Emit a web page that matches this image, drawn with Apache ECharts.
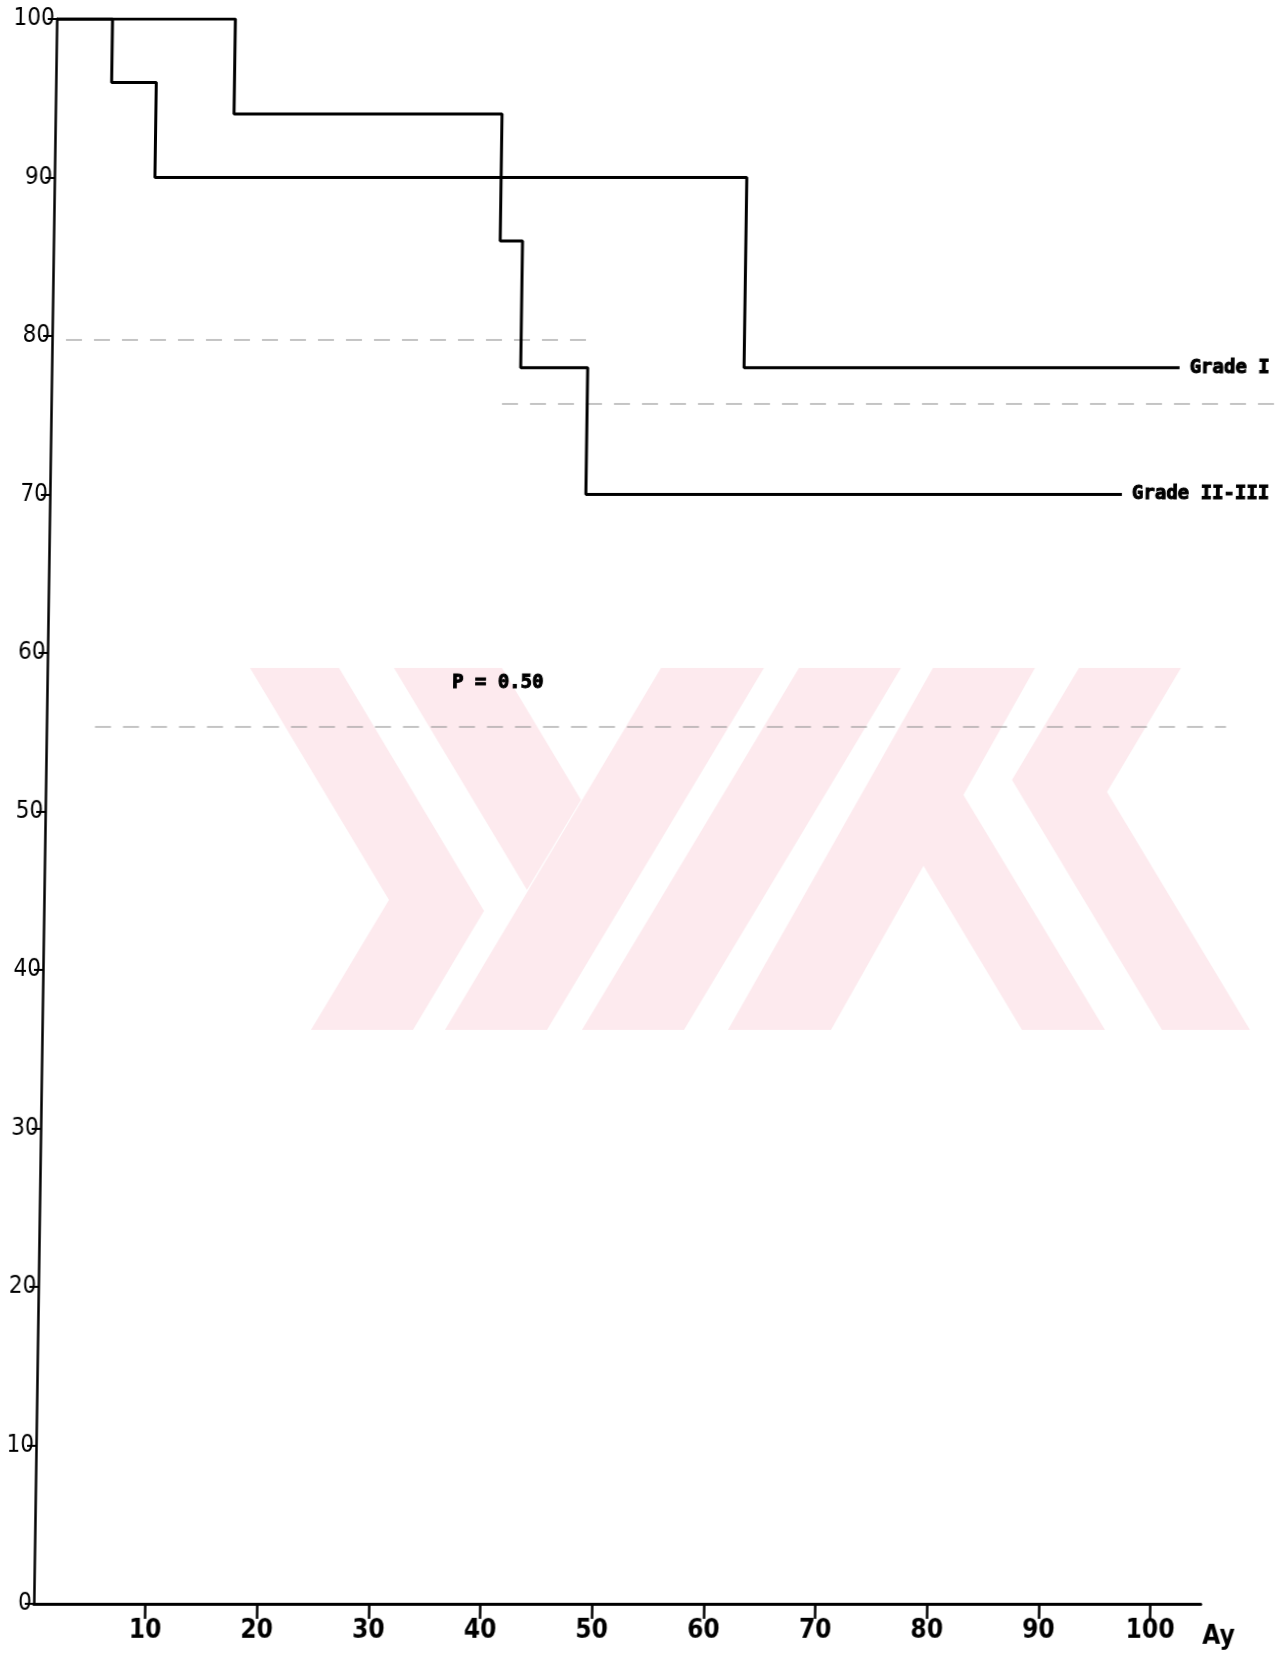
<!DOCTYPE html>
<html>
<head>
<meta charset="utf-8">
<title>Grade survival</title>
<script src="https://cdn.jsdelivr.net/npm/echarts@6/dist/echarts.min.js"></script>
<style>
  html, body { margin: 0; padding: 0; background: #fff; overflow: hidden; }
  /* the scanned page leans a little: the y axis drifts left going down */
  #chart { width: 1300px; height: 1657px; transform-origin: 0 0; transform: skewX(-0.83deg); }
</style>
</head>
<body>
<div id="chart"></div>
<script>
// tick values
const xTicks = [10, 20, 30, 40, 50, 60, 70, 80, 90, 100];
const yTickStep = 10;

// Kaplan-Meier steps, months / survival %
const grade1Months = [0, 5, 9, 62, 101];
const grade1Surv = [100, 96, 90, 78, 78];
const grade23Months = [0, 16, 40, 42, 48, 96];
const grade23Surv = [100, 94, 86, 78, 70, 70];

const seriesNames = ['Grade I', 'Grade II-III'];
const pLabel = 'P = 0.50';
const xName = 'Ay';

const SKEW = Math.tan(0.83 * Math.PI / 180);
const narrow = '"DejaVu Sans Condensed", "Liberation Sans Narrow", sans-serif';
const mono = '"DejaVu Sans Mono", "Liberation Mono", monospace';

// pale watermark behind the plot (page coordinates, un-skewed below)
const markPink = '#fdeaee';
const markShapes = [
  [[250, 668], [339, 668], [484, 911], [413, 1030], [311, 1030], [389, 900]],
  [[394, 668], [502, 668], [581, 800], [527, 890]],
  [[661, 668], [764, 668], [547, 1030], [445, 1030]],
  [[799, 668], [901, 668], [684, 1030], [582, 1030]],
  [[933, 668], [1035, 668], [831, 1030], [728, 1030]],
  [[920, 860], [961, 791], [1105, 1030], [1022, 1030]],
  [[1079, 668], [1181, 668], [1107, 792], [1250, 1030], [1162, 1030], [1012, 780]]
];

// faint show-through streaks of the scan: [x1, x2, y]
const streaks = [
  [66, 597, 340],
  [502, 1280, 404],
  [95, 1226, 727]
];

const pairs = (xs, ys) => xs.map((x, i) => [x, ys[i]]);
const unskew = ([x, y]) => [x + SKEW * y, y];

const chart = echarts.init(document.getElementById('chart'));

const stepSeries = (name, data) => ({
  name,
  type: 'line',
  step: 'end',
  symbol: 'none',
  data,
  z: 3,
  lineStyle: { color: '#000', width: 3 },
  endLabel: {
    show: true,
    formatter: '{a}',
    distance: 10,
    color: '#000',
    fontFamily: mono,
    fontWeight: 'bold',
    fontSize: 19,
    textBorderColor: '#000',
    textBorderWidth: 1
  }
});

chart.setOption({
  animation: false,
  backgroundColor: '#fff',
  grid: { left: 57, right: 76, top: 19, bottom: 53, containLabel: false },
  xAxis: {
    type: 'value',
    min: 0,
    max: 104.5,
    splitLine: { show: false },
    axisLine: { lineStyle: { color: '#000', width: 3 } },
    axisTick: { customValues: xTicks, length: 15, lineStyle: { color: '#000', width: 2.5 } },
    axisLabel: {
      customValues: xTicks,
      margin: 14,
      color: '#000',
      fontFamily: narrow,
      fontWeight: 'bold',
      fontSize: 26
    },
    name: xName,
    nameLocation: 'end',
    nameGap: 2,
    nameTextStyle: {
      color: '#000',
      fontFamily: narrow,
      fontWeight: 'bold',
      fontSize: 26,
      align: 'left',
      verticalAlign: 'top',
      padding: [20, 0, 0, 0]
    }
  },
  yAxis: {
    type: 'value',
    min: 0,
    max: 100,
    interval: yTickStep,
    splitLine: { show: false },
    axisLine: { show: true, lineStyle: { color: '#000', width: 2.5 } },
    axisTick: { show: true, length: 9, lineStyle: { color: '#000', width: 2 } },
    axisLabel: { margin: 2, color: '#000', fontFamily: narrow, fontSize: 24 }
  },
  graphic: [
    ...markShapes.map((pts) => ({
      type: 'polygon',
      silent: true,
      z: -10,
      shape: { points: pts.map(unskew) },
      style: { fill: markPink }
    })),
    ...streaks.map(([x1, x2, y]) => ({
      type: 'line',
      silent: true,
      z: -5,
      shape: { x1: x1 + SKEW * y, y1: y, x2: x2 + SKEW * y, y2: y },
      style: { stroke: '#8a8a8a', lineWidth: 1.2, lineDash: [16, 12] }
    })),
    {
      type: 'text',
      x: 452 + SKEW * 683,
      y: 683,
      z: 10,
      style: {
        text: pLabel,
        fill: '#000',
        font: 'bold 19px ' + mono,
        stroke: '#000',
        lineWidth: 1,
        verticalAlign: 'middle'
      }
    }
  ],
  series: [
    stepSeries(seriesNames[0], pairs(grade1Months, grade1Surv)),
    stepSeries(seriesNames[1], pairs(grade23Months, grade23Surv))
  ]
});
</script>
</body>
</html>
